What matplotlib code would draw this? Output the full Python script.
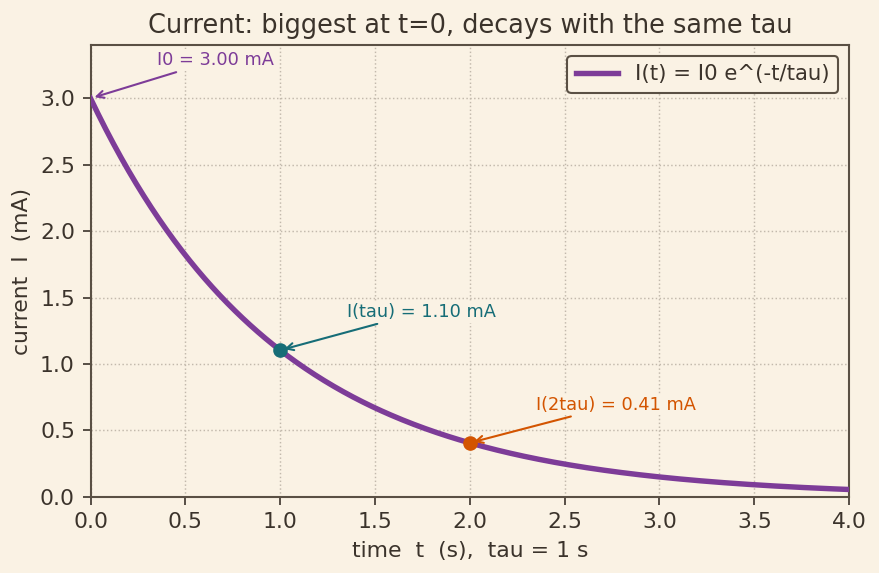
import numpy as np
import matplotlib
matplotlib.use("Agg")
import matplotlib.pyplot as plt

# data
I0 = 3.0          # mA
TAU = 1.0         # s
t = np.linspace(0, 4, 400)
current = I0 * np.exp(-t / TAU)

mark_t = [0.0, 1.0, 2.0]
mark_labels = ["I0 = 3.00 mA", "I(tau) = 1.10 mA", "I(2tau) = 0.41 mA"]

BG = "#faf2e4"
INK = "#3b332b"
EDGE = "#5a5044"
PURPLE = "#7d3c98"
TEAL = "#166d77"
ORANGE = "#d35400"

plt.rcParams["font.family"] = ["DejaVu Sans"]

fig, ax = plt.subplots(figsize=(879 / 150, 573 / 150), dpi=150)
fig.patch.set_facecolor(BG)
ax.set_facecolor(BG)

ax.plot(t, current, color=PURPLE, lw=2.6, label="I(t) = I0 e^(-t/tau)", zorder=3)

colors = [PURPLE, TEAL, ORANGE]
for i, (tm, lab, c) in enumerate(zip(mark_t, mark_labels, colors)):
    val = I0 * np.exp(-tm / TAU)
    if i > 0:
        ax.plot(tm, val, "o", color=c, ms=6, zorder=4)
    ax.annotate(lab, xy=(tm, val), xytext=(tm + 0.35, val + 0.22),
                color=c, fontsize=8.5, ha="left", va="bottom",
                bbox=dict(boxstyle="square,pad=0.1", fc=BG, ec="none"),
                arrowprops=dict(arrowstyle="->", color=c, lw=1.0),
                zorder=5)

ax.set_xlim(0, 4)
ax.set_ylim(0, 3.4)
ax.set_xticks(np.arange(0, 4.01, 0.5))
ax.set_yticks(np.arange(0, 3.01, 0.5))
ax.grid(True, linestyle=":", color="#c2b9ac", lw=0.7)

for s in ax.spines.values():
    s.set_color(EDGE)
    s.set_linewidth(1.0)
ax.tick_params(colors=INK, labelsize=10.5, length=4)

ax.set_title("Current: biggest at t=0, decays with the same tau", color=INK, fontsize=12.3)
ax.set_xlabel("time  t  (s),  tau = 1 s", color=INK, fontsize=10.5)
ax.set_ylabel("current  I  (mA)", color=INK, fontsize=10.5)

leg = ax.legend(loc="upper right", fontsize=10.2, facecolor=BG, edgecolor=EDGE,
                framealpha=1.0, fancybox=True)
for txt in leg.get_texts():
    txt.set_color(INK)

fig.subplots_adjust(left=0.103, right=0.966, top=0.921, bottom=0.133)
fig.savefig("out.png", dpi=150, facecolor=BG)
